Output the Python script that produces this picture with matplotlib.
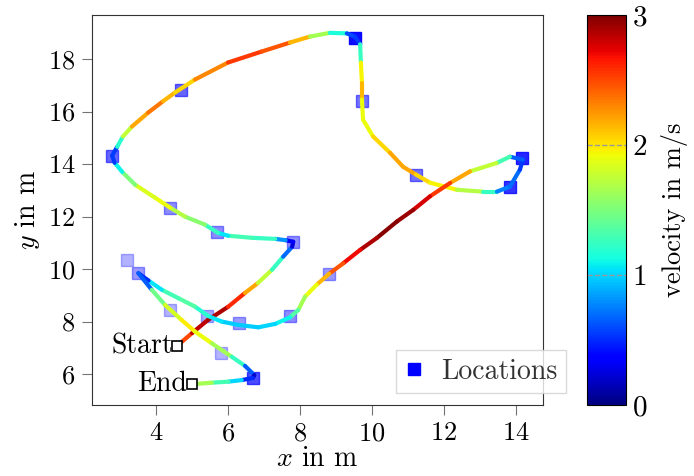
import numpy as np
import matplotlib
matplotlib.use("Agg")
import matplotlib.pyplot as plt
from matplotlib.collections import LineCollection

plt.rcParams['font.family'] = 'serif'
plt.rcParams['font.serif'] = ['cmr10']
plt.rcParams['mathtext.fontset'] = 'cm'
plt.rcParams['axes.formatter.use_mathtext'] = True

# trajectory: x, y in m and velocity in m/s
path_x = [4.58, 5.00, 5.44, 6.00, 6.47, 6.83, 7.22, 7.53, 7.78, 7.81,
          7.60, 7.31, 6.67, 6.00, 5.72, 5.36, 4.80, 4.39, 3.97, 3.42, 3.06, 2.85, 2.78,
          2.92, 3.08, 3.33, 3.78, 4.20, 4.53, 5.08, 6.00, 6.94, 7.72, 8.28, 8.83, 9.30, 9.53,
          9.67, 9.69, 9.72, 9.72, 9.75, 10.03, 10.50, 10.86, 11.22, 11.61, 12.36, 13.08, 13.47, 13.83, 14.11, 14.19,
          13.83, 13.46, 12.72, 12.17, 11.61, 11.15, 10.69, 10.13, 9.67, 9.20, 8.81, 8.46, 8.14,
          7.95, 7.72, 7.31, 6.84, 6.29, 5.82, 5.45, 5.08, 4.62, 4.16, 3.79, 3.51,
          3.88, 4.25, 4.71, 5.08, 5.55, 6.10, 6.47, 6.73, 6.69,
          6.38, 6.01, 5.55, 5.08, 4.99]
path_y = [7.07, 7.56, 8.06, 8.56, 9.09, 9.47, 9.97, 10.47, 10.85, 11.04,
          11.10, 11.15, 11.19, 11.27, 11.38, 11.69, 12.00, 12.34, 12.72, 13.21, 13.70, 14.05, 14.32,
          14.66, 15.05, 15.43, 15.96, 16.40, 16.73, 17.22, 17.87, 18.29, 18.63, 18.86, 19.00, 18.98, 18.85,
          18.56, 17.87, 17.10, 16.46, 15.69, 15.05, 14.43, 13.90, 13.60, 13.29, 13.02, 12.95, 12.95, 13.14, 13.79, 14.17,
          14.28, 14.04, 13.72, 13.28, 12.77, 12.26, 11.81, 11.18, 10.73, 10.22, 9.82, 9.40, 8.95,
          8.44, 8.16, 7.91, 7.78, 7.87, 8.00, 8.21, 8.57, 8.89, 9.21, 9.56, 9.84,
          9.21, 8.63, 8.06, 7.62, 7.17, 6.66, 6.31, 5.96, 5.85,
          5.77, 5.71, 5.67, 5.62, 5.62]
path_v = [2.3, 2.7, 2.95, 2.8, 2.4, 2.0, 1.5, 1.0, 0.4, 0.1,
          0.6, 1.0, 1.5, 1.1, 1.0, 1.5, 1.6, 1.8, 2.0, 1.7, 1.3, 0.9, 0.2,
          0.9, 1.5, 2.0, 2.4, 2.3, 2.0, 2.1, 2.5, 2.6, 2.3, 2.0, 1.3, 1.0, 0.2,
          0.9, 1.6, 2.3, 2.0, 1.8, 2.0, 2.1, 2.3, 2.1, 2.0, 1.9, 1.5, 1.0, 0.5, 0.9, 0.2,
          1.1, 1.5, 2.0, 2.4, 2.7, 2.85, 3.0, 2.95, 2.8, 2.6, 2.3, 2.0, 1.8,
          1.5, 1.2, 1.0, 1.0, 0.95, 1.0, 1.1, 1.3, 1.4, 1.2, 0.9, 0.1,
          1.2, 1.7, 1.95, 2.0, 1.8, 1.5, 1.0, 0.3, 0.1,
          0.9, 1.1, 1.5, 1.8, 1.8]

# waypoint locations and their opacity
loc_x = [3.19, 3.51, 4.39, 5.42, 6.31, 5.81, 6.69, 7.72, 8.81, 7.81,
         5.69, 4.39, 2.78, 4.69, 9.53, 9.72, 11.22, 13.83, 14.17]
loc_y = [10.35, 9.84, 8.44, 8.21, 7.95, 6.80, 5.85, 8.21, 9.82, 11.04,
         11.42, 12.34, 14.32, 16.84, 18.82, 16.42, 13.60, 13.14, 14.24]
loc_alpha = [0.3, 0.4, 0.3, 0.35, 0.4, 0.3, 0.7, 0.45, 0.4, 0.45,
             0.45, 0.45, 0.6, 0.6, 0.95, 0.55, 0.55, 0.8, 0.85]

start = (4.58, 7.07)
end = (4.99, 5.62)

fig = plt.figure(figsize=(6.94, 4.76), dpi=100)
ax = fig.add_axes([92/694, 71/476, 451/694, 390/476])
cax = fig.add_axes([587/694, 71/476, 39/694, 390/476])

for x, y, a in zip(loc_x, loc_y, loc_alpha):
    ax.plot(x, y, 's', color='blue', alpha=a, markersize=8.5, zorder=2)
ax.plot([], [], 's', color='blue', markersize=8.5, label='Locations')

pts = np.column_stack([path_x, path_y]).reshape(-1, 1, 2)
segs = np.concatenate([pts[:-1], pts[1:]], axis=1)
seg_v = (np.array(path_v[:-1]) + np.array(path_v[1:])) / 2
lc = LineCollection(segs, cmap='jet', norm=plt.Normalize(0, 3), linewidth=3, capstyle='round', zorder=3)
lc.set_array(seg_v)
ax.add_collection(lc)

ax.plot(*start, 's', mfc='white', mec='black', markersize=6.5, mew=1.2, zorder=4)
ax.plot(*end, 's', mfc='white', mec='black', markersize=6.5, mew=1.2, zorder=4)
ax.text(start[0] - 0.12, start[1], 'Start', ha='right', va='center', fontsize=20)
ax.text(end[0] - 0.12, end[1], 'End', ha='right', va='center', fontsize=20)

ax.set_xlim(2.22, 14.75)
ax.set_ylim(4.82, 19.68)
ax.set_xticks([4, 6, 8, 10, 12, 14])
ax.set_yticks([6, 8, 10, 12, 14, 16, 18])
ax.tick_params(labelsize=19, length=7, color='0.45', pad=5)
for s in ax.spines.values():
    s.set_color('0.2')
ax.set_xlabel('$x$ in m', fontsize=20, labelpad=0)
ax.set_ylabel('$y$ in m', fontsize=20, labelpad=4)
leg = ax.legend(loc='lower right', bbox_to_anchor=(1.05, 0.03), fontsize=20,
                fancybox=False, handlelength=0.7, handletextpad=0.6,
                borderpad=0.3, borderaxespad=0)
leg.get_frame().set_edgecolor('0.82')
for t in leg.get_texts():
    t.set_color('0.2')

cb = fig.colorbar(lc, cax=cax)
cb.set_ticks([0, 1, 2, 3])
cb.ax.tick_params(labelsize=21, length=0, pad=4)
for v in [1, 2]:
    cb.ax.axhline(v, color='0.6', linestyle='--', linewidth=1)
cb.set_label('velocity in m/s', fontsize=19, labelpad=10)

fig.savefig('out.png', dpi=100)
